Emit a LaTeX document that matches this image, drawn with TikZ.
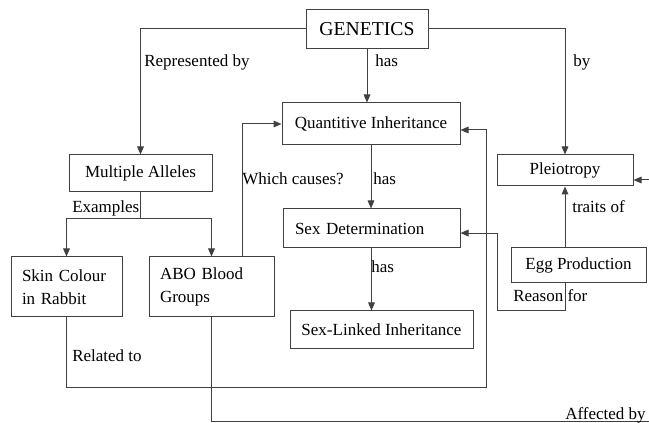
\documentclass[tikz,border=0pt]{standalone}
\usepackage{fontspec}
\setmainfont{Liberation Serif}
\usetikzlibrary{positioning, arrows.meta}
\newcommand{\BoxFont}{\fontsize{12.75}{17.25}\selectfont}
\newcommand{\TitleFont}{\fontsize{14.75}{17.5}\selectfont}

\begin{document}
\begin{tikzpicture}[x=0.75pt, y=-0.75pt,
  box/.style={draw=black!75, line width=0.75pt, font=\BoxFont, inner sep=0pt, align=center},
  lbl/.style={font=\BoxFont, inner sep=0pt, anchor=base west},
  plain/.style={draw=black!75, line width=0.75pt},
  link/.style={plain, -{Triangle[length=6pt, width=5pt]}}]
\useasboundingbox (0,0) rectangle (649,423);

% concept boxes
\node[box, font=\TitleFont, minimum width=91.5pt, minimum height=28.9pt] (gen) at (367,28.75) {GENETICS};
\node[box, minimum width=107.25pt, minimum height=27.75pt] (alleles) at (140.5,173.5) {Multiple Alleles};
\node[box, minimum width=133.5pt, minimum height=31.5pt] (quant) at (371,124) {Quantitive Inheritance};
\node[box, minimum width=102pt, minimum height=23.25pt] (pleio) at (565,170.5) {Pleiotropy};
\node[box, align=left, text width=114.75pt, inner xsep=9pt, minimum height=29.25pt] (sexdet) at (371.5,228.5) {Sex Determination};
\node[box, minimum width=137.25pt, minimum height=28.5pt] (sexlinked) at (381.5,330) {Sex-Linked Inheritance};
\node[box, minimum width=101.25pt, minimum height=26.25pt] (egg) at (578.5,265.5) {Egg Production};
\node[box, align=left, text width=66.75pt, inner xsep=8.25pt, minimum height=45pt] (skin) at (66.5,287) {Skin Colour\\in Rabbit};
\node[box, align=left, text width=77.25pt, inner xsep=8.25pt, minimum height=45pt] (abo) at (211.5,287) {ABO Blood\\Groups};

% free ends and corners
\coordinate (split) at ([yshift=-19.5pt]alleles.south);
\coordinate (relc) at (486,388);
\coordinate (aff) at (649,421);
\coordinate (reas) at (497,311);
\coordinate (pin) at (649,180);

% connectors from GENETICS
\draw[link] (gen.west) -| (alleles.north);
\draw[link] (gen.south) -- (gen.south |- quant.north);
\draw[link] (gen.east) -| (pleio.north);

% middle column
\draw[link] (quant.south) -- (quant.south |- sexdet.north);
\draw[link] (sexdet.south) -- (sexdet.south |- sexlinked.north);

% examples
\draw[plain] (alleles.south) -- (split);
\draw[link] (split) -| (skin.north);
\draw[link] (split) -| (abo.north);

% back to quantitive inheritance
\draw[link] ([xshift=22.9pt]abo.north) |- (quant.west);
\draw[link] (skin.south) |- (relc) |- ([yshift=-4.5pt]quant.east);
\draw[plain] (abo.south) |- (aff);

% right column
\draw[link] (pleio.south |- egg.north) -- (pleio.south);
\draw[link] (pleio.south |- egg.south) |- (reas) |- ([yshift=-3.4pt]sexdet.east);
\draw[link] (pin) -- (pleio.east |- pin);

% connector labels
\foreach \nm/\x/\y/\txt in {repby/144/67/Represented by, has1/375/67/has, by/573/67/by,
  which/242/185/Which causes?, has2/373/185/has, has3/371/273/has,
  examples/72/213/Examples, related/72/362/Related to, traits/572/213/traits of,
  reason/513/302/Reason for, affected/565/419/Affected by}
  \node[lbl] (\nm) at (\x,\y) {\txt};
\end{tikzpicture}
\end{document}
